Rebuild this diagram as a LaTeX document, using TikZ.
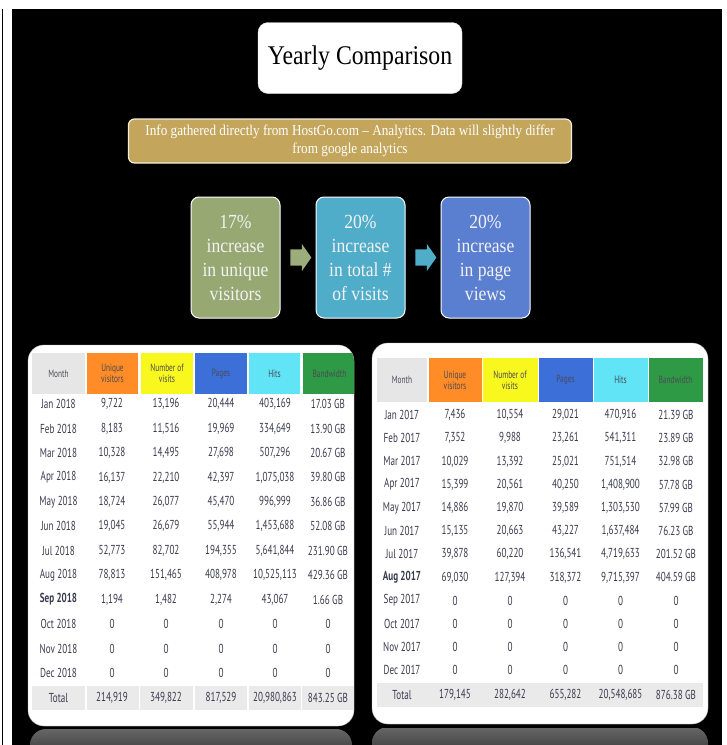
\documentclass[tikz,border=0pt]{standalone}
\usepackage{fontspec}
\setmainfont{Liberation Serif}
\newfontfamily\serifc[FakeStretch=0.88]{Liberation Serif}
\newfontfamily\tabfont[FakeStretch=0.7]{PT Sans}
\usetikzlibrary{positioning,shapes.arrows,calc}

\definecolor{infogold}{HTML}{C3A65C}
\definecolor{boxgreen}{HTML}{97A873}
\definecolor{boxteal}{HTML}{4FADC9}
\definecolor{boxblue}{HTML}{5A7ED0}
\definecolor{hdrgrey}{HTML}{E6E6E6}
\definecolor{hdrorange}{HTML}{FF8C26}
\definecolor{hdryellow}{HTML}{F8F81E}
\definecolor{hdrblue}{HTML}{3C6FD8}
\definecolor{hdrcyan}{HTML}{60E4F6}
\definecolor{hdrgreen}{HTML}{2E9A45}
\definecolor{hdrtext}{HTML}{4A4A55}
\definecolor{celltext}{HTML}{3A3A4E}
\definecolor{totalgrey}{HTML}{EAEAEA}

\tikzset{
  hdr/.style={font=\tabfont\fontsize{10.5}{11}\selectfont, text=hdrtext, align=center, inner sep=0pt},
  cell/.style={font=\tabfont\fontsize{13}{14}\selectfont, text=celltext, inner sep=0pt},
  stepbox/.style={draw=white, line width=1pt, rounded corners=8pt, text=white!95!black, align=center,
    font=\serifc\fontsize{20}{24}\selectfont, minimum width=89pt, minimum height=121pt, inner sep=0pt},
  steparrow/.style={single arrow, draw=none, inner xsep=0pt, inner ysep=8pt, minimum height=21pt,
    single arrow head extend=5.5pt, single arrow tip angle=110},
  panel/.style={fill=white, draw=gray!50, rounded corners=16pt},
}

\begin{document}
\begin{tikzpicture}[x=1pt,y=-1pt]
	\useasboundingbox (0,0) rectangle (727,745);
	\fill[white] (0,0) rectangle (727,745);
	\fill[black] (12,9) rectangle (722,745);
	\draw[line width=1.5pt] (2.5,9) -- (2.5,745);

	% title and note
	\node[fill=white, draw=gray!30, rounded corners=10pt, minimum width=204pt, minimum height=71pt,
	  font=\serifc\fontsize{27}{30}\selectfont] (title) at (360,58) {Yearly Comparison};
	\node[fill=infogold, draw=white!80!infogold, line width=1.2pt, rounded corners=6pt, minimum width=443pt,
	  minimum height=44pt, inner sep=0pt, text=white, align=center, font=\serifc\fontsize{15}{18}\selectfont]
	  (info) at (350,141) {Info gathered directly from HostGo.com – Analytics. Data will slightly differ\\from google analytics};

	% three boxes
	\node[stepbox, fill=boxgreen] (green) at (235.5,257.5) {17\%\\increase\\in unique\\visitors};
	\node[stepbox, fill=boxteal, right=35pt of green] (teal) {20\%\\increase\\in total \#\\of visits};
	\node[stepbox, fill=boxblue, right=35pt of teal] (blue) {20\%\\increase\\in page\\views};
	\node[steparrow, fill=boxgreen!95!white] (arr1) at ($(green.east)!0.5!(teal.west)$) {};
	\node[steparrow, fill=boxteal] (arr2) at ($(teal.east)!0.5!(blue.west)$) {};

	% 2018 table
	\begin{scope}
	\clip (12,728) rectangle (722,745);
	\shade[top color=black!60, bottom color=black, rounded corners=16pt] (30,729) rectangle (352,790);
	\shade[top color=black!60, bottom color=black, rounded corners=16pt] (372,727) rectangle (708,790);
	\end{scope}
	\draw[panel] (28,345) rectangle (354,726);
	\begin{scope}
	\clip[rounded corners=16pt] (28,345) rectangle (354,726);
	\foreach \cx/\w/\col/\txt [count=\k] in {58.5/53/hdrgrey/Month, 112.5/51/hdrorange/{Unique\\visitors},
	    167/52/hdryellow/{Number of\\visits}, 221/52/hdrblue/Pages, 274.5/51/hdrcyan/Hits, 329.5/53/hdrgreen/Bandwidth}
	  \node[hdr, fill=\col, minimum width=\w pt, minimum height=41pt] (L-h\k) at (\cx,373.5) {\txt};
	\end{scope}
	\fill[totalgrey] (32,686) rectangle (354,710);
	\foreach \sx in {86,139.5,194,248,301.5}
	  \draw[white, line width=1.5pt] (\sx,686) -- (\sx,710);
	\foreach \mo/\ua/\vb/\pc/\hd/\bw [count=\r] in {
	    Jan 2018/{9,722}/{13,196}/{20,444}/{403,169}/17.03 GB,
	    Feb 2018/{8,183}/{11,516}/{19,969}/{334,649}/13.90 GB,
	    Mar 2018/{10,328}/{14,495}/{27,698}/{507,296}/20.67 GB,
	    Apr 2018/{16,137}/{22,210}/{42,397}/{1,075,038}/39.80 GB,
	    May 2018/{18,724}/{26,077}/{45,470}/{996,999}/36.86 GB,
	    Jun 2018/{19,045}/{26,679}/{55,944}/{1,453,688}/52.08 GB,
	    Jul 2018/{52,773}/{82,702}/{194,355}/{5,641,844}/231.90 GB,
	    Aug 2018/{78,813}/{151,465}/{408,978}/{10,525,113}/429.36 GB,
	    {\bfseries Sep 2018}/{1,194}/{1,482}/{2,274}/{43,067}/1.66 GB,
	    Oct 2018/0/0/0/0/0,
	    Nov 2018/0/0/0/0/0,
	    Dec 2018/0/0/0/0/0,
	    Total/{214,919}/{349,822}/{817,529}/{20,980,863}/843.25 GB} {
	  \pgfmathsetmacro\yy{\r<13 ? 404+(\r-1)*24.45 : 698}
	  \node[cell] (L-\r-0) at (58.5,\yy) {\mo};
	  \node[cell] (L-\r-1) at (112,\yy) {\ua};
	  \node[cell] (L-\r-2) at (166,\yy) {\vb};
	  \node[cell] (L-\r-3) at (221,\yy) {\pc};
	  \node[cell] (L-\r-4) at (275,\yy) {\hd};
	  \node[cell] (L-\r-5) at (328,\yy) {\bw};
	}

	% 2017 table
	\draw[panel] (372,343) rectangle (708,724);
	\begin{scope}
	\clip[rounded corners=16pt] (372,343) rectangle (708,724);
	\foreach \cx/\w/\col/\txt [count=\k] in {402/50/hdrgrey/Month, 455/53/hdrorange/{Unique\\visitors},
	    510/55/hdryellow/{Number of\\visits}, 565.5/54/hdrblue/Pages, 620.5/54/hdrcyan/Hits, 675.5/54/hdrgreen/Bandwidth}
	  \node[hdr, fill=\col, minimum width=\w pt, minimum height=44pt] (R-h\k) at (\cx,380) {\txt};
	\end{scope}
	\fill[totalgrey] (377,683) rectangle (703,707);
	\foreach \mo/\ua/\vb/\pc/\hd/\bw [count=\r] in {
	    Jan 2017/{7,436}/{10,554}/{29,021}/{470,916}/21.39 GB,
	    Feb 2017/{7,352}/{9,988}/{23,261}/{541,311}/23.89 GB,
	    Mar 2017/{10,029}/{13,392}/{25,021}/{751,514}/32.98 GB,
	    Apr 2017/{15,399}/{20,561}/{40,250}/{1,408,900}/57.78 GB,
	    May 2017/{14,886}/{19,870}/{39,589}/{1,303,530}/57.99 GB,
	    Jun 2017/{15,135}/{20,663}/{43,227}/{1,637,484}/76.23 GB,
	    Jul 2017/{39,878}/{60,220}/{136,541}/{4,719,633}/201.52 GB,
	    {\bfseries Aug 2017}/{69,030}/{127,394}/{318,372}/{9,715,397}/404.59 GB,
	    Sep 2017/0/0/0/0/0,
	    Oct 2017/0/0/0/0/0,
	    Nov 2017/0/0/0/0/0,
	    Dec 2017/0/0/0/0/0,
	    Total/{179,145}/{282,642}/{655,282}/{20,548,685}/876.38 GB} {
	  \pgfmathsetmacro\yy{\r<13 ? 415+(\r-1)*23.2 : 695}
	  \node[cell] (R-\r-0) at (402,\yy) {\mo};
	  \node[cell] (R-\r-1) at (455,\yy) {\ua};
	  \node[cell] (R-\r-2) at (510,\yy) {\vb};
	  \node[cell] (R-\r-3) at (565.5,\yy) {\pc};
	  \node[cell] (R-\r-4) at (620.5,\yy) {\hd};
	  \node[cell] (R-\r-5) at (676,\yy) {\bw};
	}
\end{tikzpicture}
\end{document}
